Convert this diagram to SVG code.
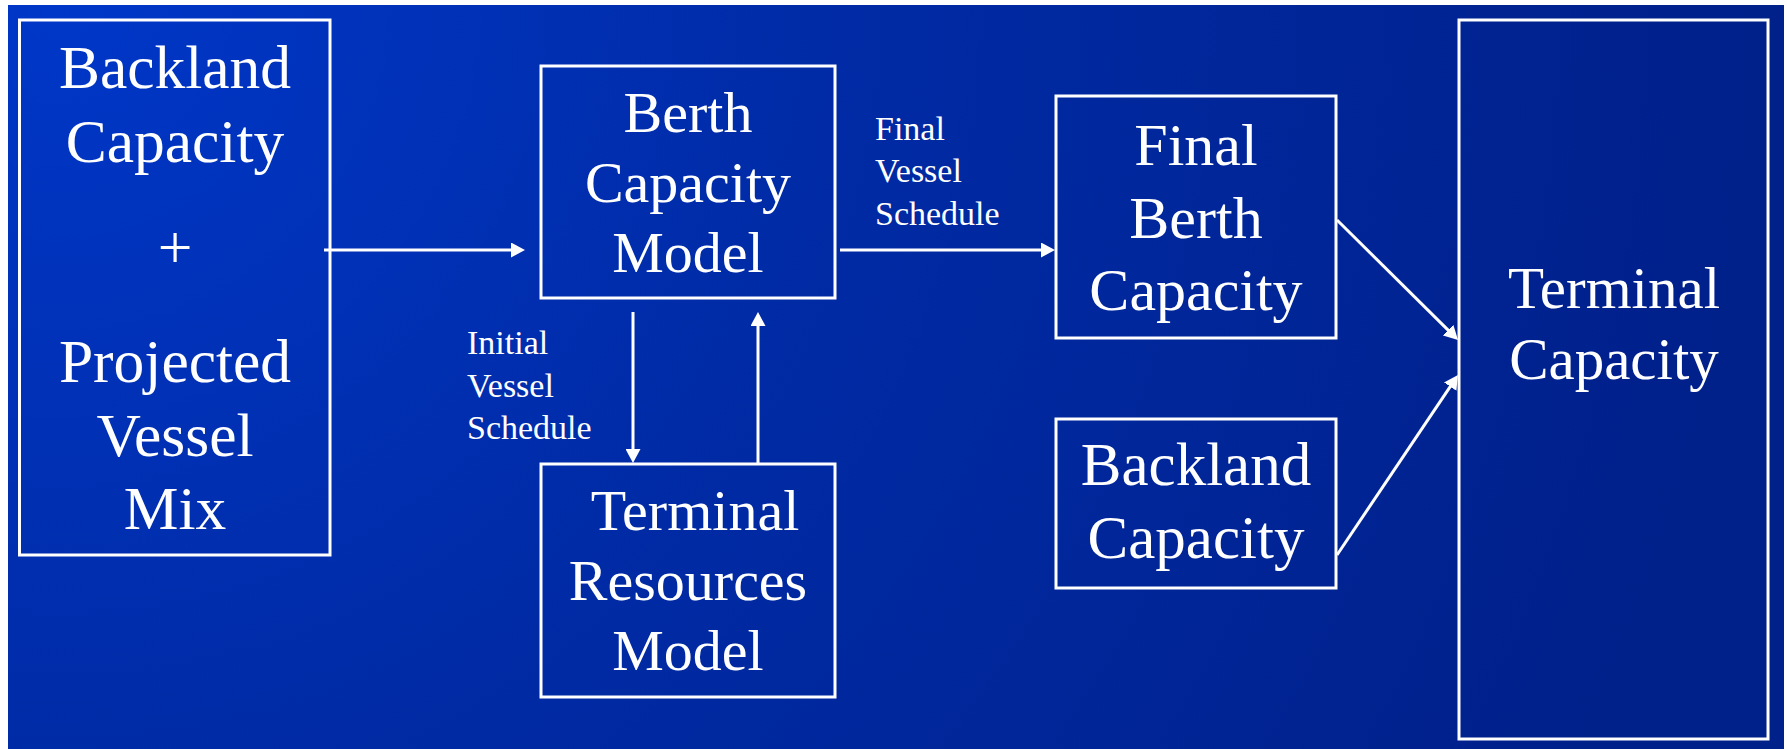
<svg xmlns="http://www.w3.org/2000/svg" width="1787" height="749" viewBox="0 0 1787 749">
  <defs>
    <radialGradient id="bg" gradientUnits="userSpaceOnUse" cx="60" cy="0" r="1700">
      <stop offset="0" stop-color="#0037C8"/>
      <stop offset="0.45" stop-color="#002BA6"/>
      <stop offset="1" stop-color="#00208A"/>
    </radialGradient>
    <marker id="head" markerUnits="userSpaceOnUse" markerWidth="14" markerHeight="15" refX="4" refY="7.5" orient="auto" viewBox="0 0 14 15">
      <path d="M0,0 L14,7.5 L0,15 Z" fill="#FFFFFF"/>
    </marker>
    <style>
      .box { fill: none; stroke: #FFFFFF; stroke-width: 3; }
      .big { font-family: "Liberation Serif", "Times New Roman", serif; fill: #FFFFFF; text-anchor: middle; }
      .lbl { font-family: "Liberation Serif", "Times New Roman", serif; fill: #FFFFFF; font-size: 34px; }
      .link { fill: none; stroke: #FFFFFF; stroke-width: 3; marker-end: url(#head); }
    </style>
  </defs>

  <rect x="0" y="0" width="1787" height="749" fill="#FFFFFF"/>
  <rect x="8" y="5" width="1776" height="744" fill="url(#bg)"/>

  <g id="inputs">
    <rect class="box" x="19.5" y="20" width="310.5" height="535"/>
    <text class="big" font-size="61.5" x="175" y="88">Backland</text>
    <text class="big" font-size="61.5" x="175" y="162">Capacity</text>
    <text class="big" font-size="61.5" x="175" y="268">+</text>
    <text class="big" font-size="61.5" x="175" y="382">Projected</text>
    <text class="big" font-size="61.5" x="175" y="456">Vessel</text>
    <text class="big" font-size="61.5" x="175" y="529">Mix</text>
  </g>

  <g id="berth-capacity-model">
    <rect class="box" x="541" y="66" width="294" height="232"/>
    <text class="big" font-size="58" x="688" y="131.5">Berth</text>
    <text class="big" font-size="58" x="688" y="201.5">Capacity</text>
    <text class="big" font-size="58" x="688" y="272">Model</text>
  </g>

  <g id="terminal-resources-model">
    <rect class="box" x="541" y="464" width="294" height="233"/>
    <text class="big" font-size="58" x="695" y="530">Terminal</text>
    <text class="big" font-size="58" x="688" y="600">Resources</text>
    <text class="big" font-size="58" x="688" y="670">Model</text>
  </g>

  <g id="final-berth-capacity">
    <rect class="box" x="1056" y="96" width="280" height="242"/>
    <text class="big" font-size="60" x="1196" y="165">Final</text>
    <text class="big" font-size="60" x="1196" y="238">Berth</text>
    <text class="big" font-size="60" x="1196" y="310">Capacity</text>
  </g>

  <g id="backland-capacity">
    <rect class="box" x="1056" y="419" width="280" height="169"/>
    <text class="big" font-size="61" x="1196" y="485">Backland</text>
    <text class="big" font-size="61" x="1196" y="558">Capacity</text>
  </g>

  <g id="terminal-capacity">
    <rect class="box" x="1459" y="20" width="309" height="719"/>
    <text class="big" font-size="59" x="1614" y="308">Terminal</text>
    <text class="big" font-size="59" x="1614" y="379">Capacity</text>
  </g>

  <g id="connectors">
    <line class="link" x1="324" y1="250" x2="515" y2="250"/>
    <line class="link" x1="840" y1="250" x2="1045" y2="250"/>
    <line class="link" x1="633" y1="312" x2="633" y2="453"/>
    <line class="link" x1="758" y1="463" x2="758" y2="322"/>
    <line class="link" x1="1337" y1="220" x2="1450.9" y2="332.9"/>
    <line class="link" x1="1337" y1="555" x2="1452.4" y2="383.3"/>
    <text class="lbl" x="467" y="354">Initial</text>
    <text class="lbl" x="467" y="397">Vessel</text>
    <text class="lbl" x="467" y="439">Schedule</text>
    <text class="lbl" x="875" y="140">Final</text>
    <text class="lbl" x="875" y="182">Vessel</text>
    <text class="lbl" x="875" y="225">Schedule</text>
  </g>
</svg>
